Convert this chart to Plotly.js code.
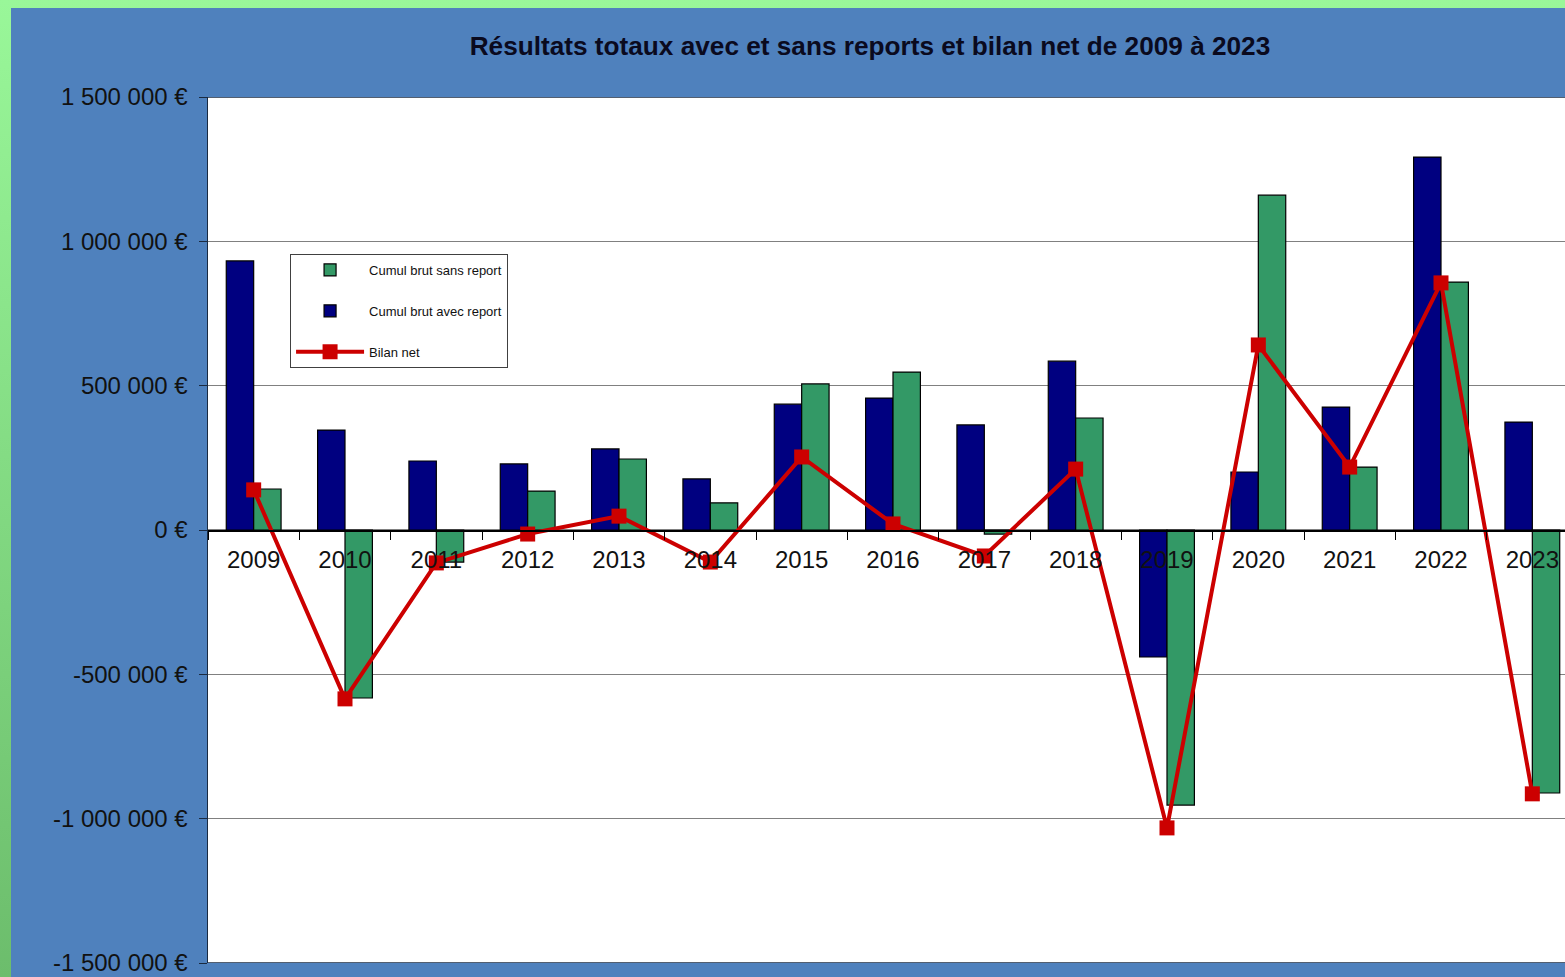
<!DOCTYPE html>
<html>
<head>
<meta charset="utf-8">
<script src="https://cdn.plot.ly/plotly-3.0.1.min.js"></script>
<style>
  html, body { margin: 0; padding: 0; width: 1565px; height: 977px; overflow: hidden;
    background: linear-gradient(to bottom, #99f799, #6cbd6c); }
  #chart { position: absolute; left: 11px; top: 8px; }
</style>
</head>
<body>
<div id="chart"></div>
<script>
const years = ['2009','2010','2011','2012','2013','2014','2015','2016','2017','2018','2019','2020','2021','2022','2023'];
const avecReport = [932000, 346000, 239000, 229000, 281000, 177000, 436000, 457000, 364000, 585000, -440000, 201000, 426000, 1292000, 374000];
const sansReport = [142000, -582000, -111000, 135000, 246000, 94000, 506000, 547000, -14000, 388000, -953000, 1160000, 218000, 859000, -911000];
const bilanNet = [139000, -585000, -114000, -14000, 48000, -111000, 253000, 21000, -90000, 211000, -1032000, 641000, 218000, 856000, -914000];
const yTickVals = [1500000, 1000000, 500000, 0, -500000, -1000000, -1500000];
const yTickText = ['1 500 000 €', '1 000 000 €', '500 000 €', '0 €', '-500 000 €', '-1 000 000 €', '-1 500 000 €'];
const yMin = -1500000, yMax = 1500000;

const FONT = '"Liberation Sans", Arial, sans-serif';

const traces = [
  { type: 'bar', name: 'Cumul brut avec report', x: years, y: avecReport,
    marker: { color: '#000080', line: { color: '#000000', width: 1.2 } },
    legendrank: 2, legendgroup: 'b', hoverinfo: 'none' },
  { type: 'bar', name: 'Cumul brut sans report', x: years, y: sansReport,
    marker: { color: '#339966', line: { color: '#000000', width: 1.2 } },
    legendrank: 1, legendgroup: 'a', hoverinfo: 'none' },
  { type: 'scatter', mode: 'lines+markers', name: 'Bilan net', x: years, y: bilanNet,
    line: { color: '#cc0000', width: 4 },
    marker: { symbol: 'square', size: 15, color: '#cc0000' },
    legendrank: 3, legendgroup: 'c', hoverinfo: 'none' }
];

const layout = {
  width: 1579, height: 995,
  margin: { l: 197, r: 12, t: 89, b: 40 },
  paper_bgcolor: '#4f81bd',
  plot_bgcolor: '#ffffff',
  font: { family: FONT, color: '#111111' },
  title: { text: '<b>Résultats totaux avec et sans reports et bilan net de 2009 à 2023</b>',
    font: { family: FONT, size: 26.2, color: '#0a0a1e' },
    x: 0.544, xanchor: 'center', y: 0.962, yanchor: 'middle' },
  barmode: 'group', bargap: 0.4, bargroupgap: 0,
  xaxis: {
    type: 'category', range: [-0.5, 14.5],
    anchor: 'free', position: 0.5,
    showline: true, linecolor: '#000000', linewidth: 1.5,
    ticks: 'outside', ticklen: 8, tickcolor: '#000000', tickson: 'boundaries',
    ticklabelstandoff: 8,
    showgrid: false, zeroline: false,
    tickfont: { family: FONT, size: 24, color: '#111111' }
  },
  yaxis: {
    range: [yMin, yMax], tickvals: yTickVals, ticktext: yTickText,
    showline: true, linecolor: '#1a2a40', linewidth: 1.5,
    ticks: 'outside', ticklen: 8, tickcolor: '#1a2a40', ticklabelstandoff: 6,
    showgrid: true, gridcolor: '#808080', gridwidth: 1.2,
    zeroline: false,
    tickfont: { family: FONT, size: 24, color: '#111111' }
  },
  shapes: [
    { type: 'line', xref: 'paper', yref: 'y', x0: 0, x1: 1, y0: yMax, y1: yMax,
      line: { color: '#1a2a40', width: 1.5 } },
    { type: 'line', xref: 'paper', yref: 'y', x0: 0, x1: 1, y0: yMin, y1: yMin,
      line: { color: '#1a2a40', width: 1.5 } }
  ],
  showlegend: true,
  legend: {
    x: 0.0599, y: 0.8187, xanchor: 'left', yanchor: 'top',
    bgcolor: '#ffffff', bordercolor: '#404040', borderwidth: 1,
    traceorder: 'grouped', tracegroupgap: 21,
    font: { family: FONT, size: 13, color: '#111111' },
    itemwidth: 68
  }
};

Plotly.newPlot('chart', traces, layout, { staticPlot: true, displayModeBar: false });
</script>
</body>
</html>
